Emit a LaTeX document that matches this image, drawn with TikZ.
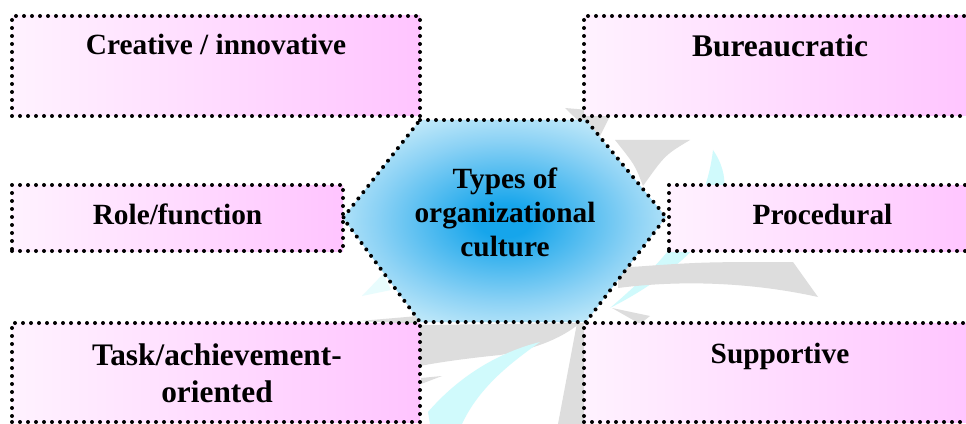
\documentclass[tikz,border=0pt]{standalone}
\usepackage{fontspec}
\setmainfont{Liberation Serif}
\definecolor{boxL}{RGB}{255,242,255}
\definecolor{boxR}{RGB}{255,196,255}
\definecolor{hexA}{RGB}{22,165,235}
\definecolor{hexB}{RGB}{140,210,245}
\definecolor{hexC}{RGB}{205,238,250}
\definecolor{wmgray}{RGB}{221,221,221}
\definecolor{wmcyan}{RGB}{208,250,252}
\definecolor{wmcyanf}{RGB}{232,252,253}
\pgfdeclareradialshading{hexshade}{\pgfpoint{0bp}{0bp}}{color(0bp)=(hexA); color(4bp)=(hexA); color(20bp)=(hexB); color(30bp)=(hexC); color(50bp)=(hexC)}
\begin{document}
\begin{tikzpicture}[x=0.75pt,y=-0.75pt,
  dotline/.style={draw=black, line width=3pt, dash pattern=on 0pt off 6pt, line cap=round},
  pbox/.style={dotline, left color=boxL, right color=boxR, rectangle, inner sep=0pt, outer sep=0pt},
  lbl/.style={font=\fontsize{22}{25}\selectfont\bfseries, inner sep=0pt},
  wmg/.style={fill=wmgray, draw=none},
  wmc/.style={fill=wmcyan, draw=none}]
\useasboundingbox (0,0) rectangle (966,424);
\fill[white] (0,0) rectangle (966,424);
\clip (0,0) rectangle (966,424);
% watermark
\path[wmg] (565,108) -- (612,112) -- (598,140) -- cycle;
\path[wmg] (615,140) -- (690,140) .. controls (665,155) .. (643,186) .. controls (635,165) .. (615,140) -- cycle;
\path[wmc] (713,150) .. controls (748,200) and (700,262) .. (610,308) .. controls (660,265) and (705,220) .. (713,150) -- cycle;
\path[wmg] (618,268) .. controls (700,262) .. (793,262) -- (818,297) .. controls (750,282) and (680,280) .. (618,288) -- cycle;
\path[wmg] (612,308) -- (650,316) -- (640,324) -- cycle;
\path[wmg] (420,325) -- (580,323) .. controls (560,340) and (530,350) .. (500,355) .. controls (470,358) and (440,362) .. (420,366) -- cycle;
\path[wmg] (577,323) -- (584,323) -- (584,424) -- (558,424) -- cycle;
\path[wmc] (430,424) -- (428,412) .. controls (460,375) and (500,352) .. (540,342) .. controls (515,360) and (480,385) .. (462,424) -- cycle;
\path[wmg] (421,384) -- (442,376) -- (421,378) -- cycle;
\path[fill=wmcyanf] (383,274) -- (391,290) -- (362,296) -- cycle;
\path[wmg] (360,321) -- (418,316) -- (418,324) -- cycle;
% boxes
\node[pbox, minimum width=306pt, minimum height=75pt] (b1) at (216,66) {};
\node[pbox, minimum width=294pt, minimum height=75pt] (b2) at (780,66) {};
\node[pbox, minimum width=248.25pt, minimum height=49.5pt] (b3) at (177.5,218) {};
\node[pbox, minimum width=230.25pt, minimum height=49.5pt] (b4) at (822.5,218) {};
\node[pbox, minimum width=306pt, minimum height=74.25pt] (b5) at (216,372.5) {};
\node[pbox, minimum width=294pt, minimum height=74.25pt] (b6) at (780,372.5) {};
% hexagon
\path[dotline, shade, shading=hexshade] (420,120) -- (586,120) -- (666,217) -- (586,322) -- (420,322) -- (343,218) -- cycle;
% labels
\node[lbl, anchor=base] (t1) at (216,55) {Creative / innovative};
\node[lbl, anchor=base, font=\fontsize{23.6}{27}\selectfont\bfseries] (t2) at (780,57) {Bureaucratic};
\node[lbl, anchor=base] (t3) at (177.5,224) {Role/function};
\node[lbl, anchor=base] (t4) at (822.5,224) {Procedural};
\node[lbl, align=center, font=\fontsize{23.5}{27.75}\selectfont\bfseries] (t5) at (217,373) {Task/achievement-\\oriented};
\node[lbl, anchor=base] (t6) at (780,363) {Supportive};
\node[lbl, align=center, font=\fontsize{22}{25.5}\selectfont\bfseries] (hex) at (505,212) {Types of\\organizational\\culture};
\end{tikzpicture}
\end{document}
